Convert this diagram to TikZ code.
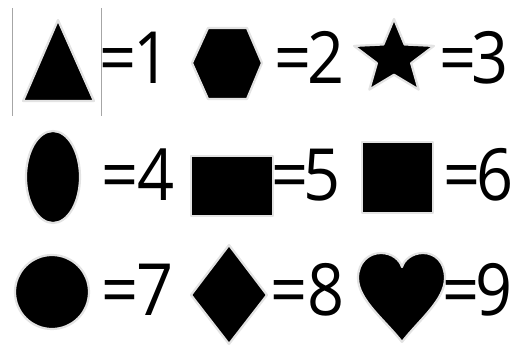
\documentclass[tikz,border=0pt]{standalone}
\usepackage{fontspec}
\setmainfont{Open Sans}
\usetikzlibrary{shapes.geometric}
\tikzset{
  shp/.style={fill=black, draw=gray!22, line width=2.2pt, line join=round},
  eq/.style={anchor=base, inner sep=0pt, xscale=0.9, font=\fontsize{72}{72}\selectfont},
  rule/.style={draw=gray!70, line width=0.8pt}
}
\begin{document}
\begin{tikzpicture}[x=1pt,y=-1pt]
\useasboundingbox (0,0) rectangle (518,347);
% row 1
\draw[rule] (12,8) -- (12,116);
\draw[rule] (101,8) -- (101,116);
\draw[shp] (58,20) -- (94,101) -- (23,101) -- cycle;
\node[eq] (e1) at (118,84) {=};
\node[eq] (d1) at (152,84) {1};
\draw[shp] (192,63) -- (208,28) -- (247,28) -- (262,63) -- (247,99) -- (208,99) -- cycle;
\node[eq] (e2) at (293,84) {=};
\node[eq] (d2) at (326,84) {2};
\begin{scope}[shift={(394,58)}, yscale=-0.93]
\draw[shp] (90:42) -- (126:18) -- (162:42) -- (198:18) -- (234:42) -- (270:18)
  -- (306:42) -- (342:18) -- (18:42) -- (54:18) -- cycle;
\end{scope}
\node[eq] (e3) at (458,84) {=};
\node[eq] (d3) at (490,84) {3};
% row 2
\draw[shp] (53,177) ellipse [x radius=27, y radius=46];
\node[eq] (e4) at (120,200) {=};
\node[eq] (d4) at (156,200) {4};
\draw[shp] (191,156) rectangle (273,216);
\node[eq] (e5) at (290,200) {=};
\node[eq] (d5) at (322,200) {5};
\draw[shp] (362,142) rectangle (433,213);
\node[eq] (e6) at (462,200) {=};
\node[eq] (d6) at (495,200) {6};
% row 3
\draw[shp] (52,292) circle [radius=37];
\node[eq] (e7) at (120,315) {=};
\node[eq] (d7) at (155,315) {7};
\draw[shp] (229,245) -- (267,295) -- (229,344) -- (191,295) -- cycle;
\node[eq] (e8) at (289,315) {=};
\node[eq] (d8) at (326,315) {8};
\draw[shp] (402,342) .. controls (385,320) and (358,300) .. (358,278)
  .. controls (358,262) and (369,253) .. (381,253)
  .. controls (392,253) and (400,260) .. (402,267)
  .. controls (404,260) and (412,253) .. (423,253)
  .. controls (435,253) and (445,262) .. (445,278)
  .. controls (445,300) and (419,320) .. (402,342) -- cycle;
\node[eq] (e9) at (461,315) {=};
\node[eq] (d9) at (494,315) {9};
\end{tikzpicture}
\end{document}
